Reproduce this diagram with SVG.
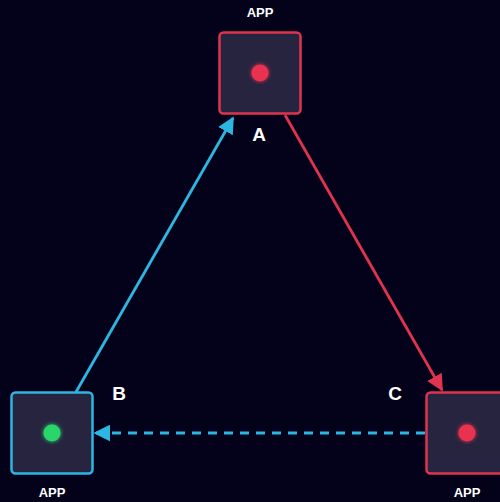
<svg xmlns="http://www.w3.org/2000/svg" width="500" height="502" viewBox="0 0 500 502">
<defs>
<style>
.node{fill:#26243f;stroke-width:2.5}
.red{stroke:#e0334f}
.blue{stroke:#2cb6e2}
.lbl{font-family:"Liberation Sans",Arial,sans-serif;font-weight:bold;fill:#ffffff;text-anchor:middle}
.app{font-size:13px}
.let{font-size:19px}
.conn{fill:none;stroke-width:2.8}
</style>
<marker id="ar" viewBox="0 0 10 10" refX="9" refY="5" markerWidth="6" markerHeight="6" orient="auto" markerUnits="strokeWidth"><path d="M0,0L10,5L0,10z" fill="#e0334f"/></marker>
<marker id="ab" viewBox="0 0 10 10" refX="9" refY="5" markerWidth="6" markerHeight="6" orient="auto" markerUnits="strokeWidth"><path d="M0,0L10,5L0,10z" fill="#2cb6e2"/></marker>
<filter id="glow" x="-100%" y="-100%" width="300%" height="300%"><feGaussianBlur stdDeviation="2" result="b"/><feMerge><feMergeNode in="b"/><feMergeNode in="SourceGraphic"/></feMerge></filter>
</defs>
<rect width="500" height="502" fill="#03021a"/>
<g id="connectors">
<line class="conn red" x1="285" y1="115" x2="442" y2="390" marker-end="url(#ar)"/>
<line class="conn blue" x1="76" y1="392" x2="233" y2="118" marker-end="url(#ab)"/>
<line class="conn blue" x1="425" y1="433" x2="95" y2="433" stroke-dasharray="9,7" marker-end="url(#ab)"/>
</g>
<g id="nodeA">
<rect class="node red" x="219.5" y="32.5" width="81" height="81" rx="4"/>
<circle cx="260" cy="73" r="8.5" fill="#e8324f" filter="url(#glow)"/>
<text class="lbl app" x="260" y="17">APP</text>
<text class="lbl let" x="259" y="141">A</text>
</g>
<g id="nodeB">
<rect class="node blue" x="11.5" y="392.5" width="81" height="81" rx="4"/>
<circle cx="52" cy="433" r="8.5" fill="#2bd66b" filter="url(#glow)"/>
<text class="lbl app" x="52" y="497">APP</text>
<text class="lbl let" x="119" y="400">B</text>
</g>
<g id="nodeC">
<rect class="node red" x="426.5" y="392.5" width="81" height="81" rx="4"/>
<circle cx="467" cy="433" r="8.5" fill="#e8324f" filter="url(#glow)"/>
<text class="lbl app" x="467" y="497">APP</text>
<text class="lbl let" x="395" y="400">C</text>
</g>
</svg>
